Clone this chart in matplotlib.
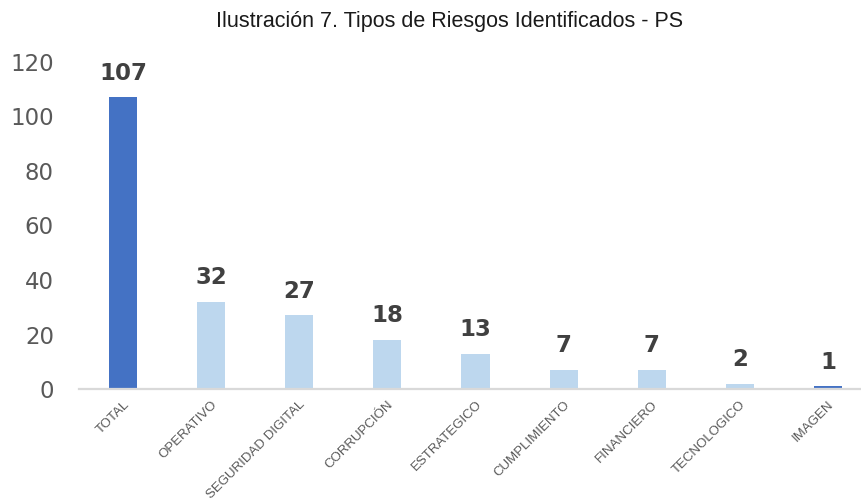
import matplotlib
matplotlib.use("Agg")
import matplotlib.pyplot as plt

categories = ["TOTAL", "OPERATIVO", "SEGURIDAD DIGITAL", "CORRUPCIÓN", "ESTRATEGICO",
              "CUMPLIMIENTO", "FINANCIERO", "TECNOLOGICO", "IMAGEN"]
values = [107, 32, 27, 18, 13, 7, 7, 2, 1]
colors = ["#4472C4", "#BDD7EE", "#BDD7EE", "#BDD7EE", "#BDD7EE",
          "#BDD7EE", "#BDD7EE", "#BDD7EE", "#4472C4"]
title = "Ilustración 7. Tipos de Riesgos Identificados - PS"

W, H = 862, 501
fig = plt.figure(figsize=(W / 100, H / 100), dpi=100)
# axes extends beyond right edge (clipped), as in reference
left, right, top, bottom = 79, 872, 62, 389
ax = fig.add_axes([left / W, 1 - bottom / H, (right - left) / W, (bottom - top) / H])

x = list(range(len(categories)))
bars = ax.bar(x, values, width=0.32, color=colors, zorder=2)
ax.set_xlim(-0.5, len(categories) - 0.5)
ax.set_ylim(0, 120)
ax.set_yticks([0, 20, 40, 60, 80, 100, 120])

for s in ["top", "right", "left"]:
    ax.spines[s].set_visible(False)
ax.spines["bottom"].set_color("#D9D9D9")
ax.spines["bottom"].set_linewidth(1.6)
ax.spines["bottom"].set_zorder(3)

ax.tick_params(axis="y", length=0, pad=18, labelsize=16.5, labelcolor="#595959")
for lbl in ax.get_yticklabels():
    lbl.set_family("DejaVu Sans")
ax.tick_params(axis="x", length=0, pad=7)
ax.set_xticks(x)
ax.set_xticklabels(categories, rotation=45, ha="right", rotation_mode="anchor",
                   fontsize=9.5, color="#595959", family="Liberation Sans")

for xi, v in zip(x, values):
    ax.annotate(str(v), (xi, v), xytext=(0, 9), textcoords="offset points",
                ha="center", va="bottom", fontsize=16.5, fontweight="bold",
                color="#404040", family="DejaVu Sans")

fig.text(450 / W, 1 - 22 / H, title, ha="center", va="center",
         fontsize=15.5, color="#1a1a1a", family="Liberation Sans")

fig.savefig("out.png", dpi=100)
